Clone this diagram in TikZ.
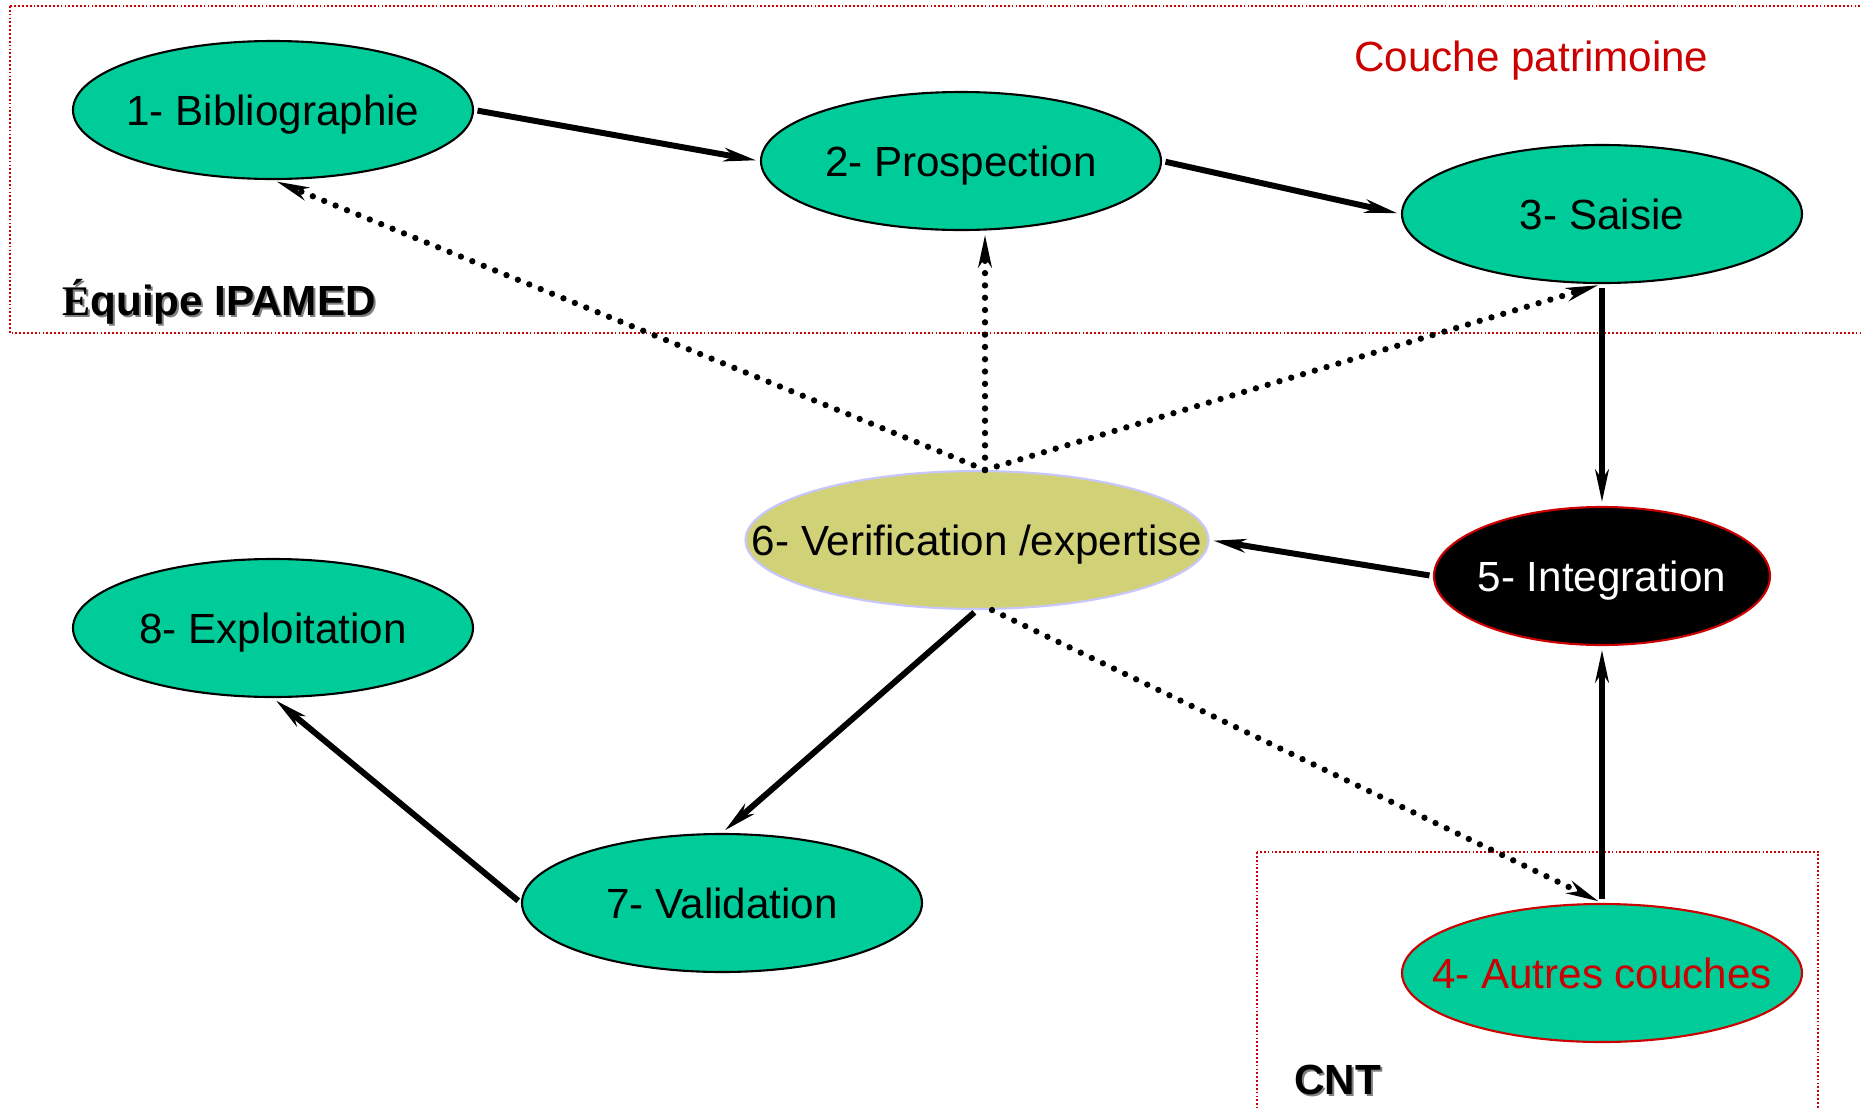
\documentclass[tikz,border=0pt]{standalone}
\usepackage{fontspec}
\setmainfont{Liberation Sans}
\newfontfamily\serifbold{Liberation Serif}
\usepackage{tikz}
\usetikzlibrary{arrows.meta}
\usetikzlibrary{shapes.geometric}
\usetikzlibrary{positioning}
\definecolor{cgreen}{rgb}{0, 0.8, 0.6}
\definecolor{colive}{rgb}{0.82, 0.82, 0.47}
\definecolor{clilac}{rgb}{0.78, 0.78, 1}
\definecolor{cred}{rgb}{0.8, 0, 0}
\tikzset{stage/.style = {ellipse, draw, line width=0.6pt, fill=cgreen,
                         minimum width=4cm, minimum height=1.38cm,
                         inner xsep=-2cm, inner ysep=-1cm,
                         text height=8.6pt, text depth=0pt,
                         font=\fontsize{12}{14}\selectfont}}
\tikzset{flow/.style = {line width=1.7pt,
                        -{Stealth[length=3.2mm, width=1.3mm, inset=0.9mm]},
                        shorten <=1pt, shorten >=1pt}}
\tikzset{check/.style = {line width=1.8pt, line cap=round,
                         dash pattern=on 0pt off 3.5pt,
                         -{Stealth[length=3.2mm, width=1.3mm, inset=0.9mm, line cap=butt]},
                         shorten >=1pt}}
\tikzset{zone/.style = {cred, line width=0.6pt, dash pattern=on 0.5pt off 0.6pt}}
\tikzset{team/.style = {anchor=base west, font=\fontsize{12}{14}\selectfont\bfseries}}

\begin{document}
\begin{tikzpicture}
    \useasboundingbox (0, 0) rectangle (18.61, -11.08);

    \draw [zone] (0.10, -0.06) rectangle (18.80, -3.33);
    \draw [zone] (12.57, -8.52) rectangle (18.18, -11.40);

    \node [stage] (bib) at (2.73, -1.10) {1- Bibliographie};
    \node [stage] (pros) at (9.61, -1.61) {2- Prospection};
    \node [stage] (sais) at (16.02, -2.14) {3- Saisie};
    \node [stage, draw=cred, text=cred] (autres) at (16.02, -9.73) {4- Autres couches};
    \node [stage, minimum width=3.36cm, fill=black, draw=cred, text=white] (integ) at (16.02, -5.76) {5- Integration};
    \node [stage, minimum width=4.63cm, fill=colive, draw=clilac] (verif) at (9.77, -5.40) {6- Verification /expertise};
    \node [stage] (valid) at (7.22, -9.03) {7- Validation};
    \node [stage] (exploit) at (2.73, -6.28) {8- Exploitation};

    \node [anchor=base west, cred, font=\fontsize{12}{14}\selectfont] (couche) at (13.42, -0.71) {Couche patrimoine};
    \node [team, gray] (ipamedshadow) at (0.52, -3.17) {{\serifbold É}quipe IPAMED};
    \node [team] (ipamed) at (0.50, -3.15) {{\serifbold É}quipe IPAMED};
    \node [team, gray] (cntshadow) at (12.84, -10.96) {CNT};
    \node [team] (cnt) at (12.82, -10.94) {CNT};

    \coordinate (hub) at ([xshift=0.08cm]verif.north);

    \draw [flow] (bib.east) -- (pros.west);
    \draw [flow] (pros.east) -- (sais.west);
    \draw [flow] (sais.south) -- (integ.north);
    \draw [flow] (autres.north) -- (integ.south);
    \draw [flow] (integ.west) -- (verif.east);
    \draw [flow] (verif.south) -- (valid.north);
    \draw [flow] (valid.west) -- (exploit.south);

    \draw [check] (hub) -- (bib.south);
    \draw [check] (hub) -- (hub |- pros.south);
    \draw [check] (hub) -- (sais.south);
    \draw [check] ([xshift=0.15cm]verif.south) -- (autres.north);
  \end{tikzpicture}
\end{document}
